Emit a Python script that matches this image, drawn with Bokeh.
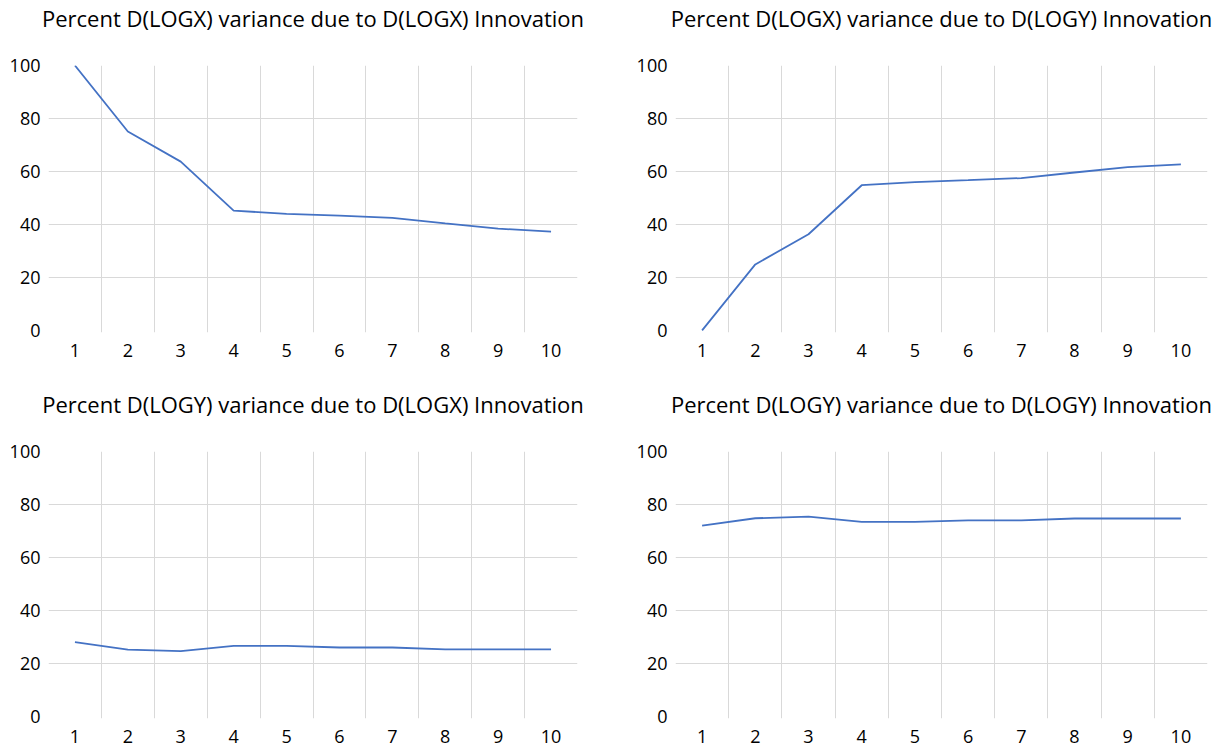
from bokeh.plotting import figure
from bokeh.layouts import column, row
from bokeh.models import FixedTicker, ColumnDataSource, Title
from bokeh.embed import file_html
from bokeh.resources import INLINE

periods = [1, 2, 3, 4, 5, 6, 7, 8, 9, 10]
x_own = [100.0, 75.1, 63.7, 45.2, 44.0, 43.3, 42.5, 40.4, 38.4, 37.3]
x_by_y = [0.0, 24.9, 36.3, 54.8, 56.0, 56.7, 57.5, 59.6, 61.6, 62.7]
y_by_x = [28.0, 25.2, 24.6, 26.6, 26.6, 26.0, 26.0, 25.3, 25.3, 25.3]
y_own = [72.0, 74.8, 75.4, 73.4, 73.4, 74.0, 74.0, 74.7, 74.7, 74.7]

titles = [
    "Percent D(LOGX) variance due to D(LOGX) Innovation",
    "Percent D(LOGX) variance due to D(LOGY) Innovation",
    "Percent D(LOGY) variance due to D(LOGX) Innovation",
    "Percent D(LOGY) variance due to D(LOGY) Innovation",
]
series = [x_own, x_by_y, y_by_x, y_own]
y_ticks = [0, 20, 40, 60, 80, 100]

FONT = "Open Sans"
LINE = "#4472C4"
GRID = "#D9D9D9"


def make(title, vals, width, height, left, right, bottom, xoff):
    p = figure(width=width, height=height, output_backend="svg", toolbar_location=None,
               x_range=(0.5, 10.5), y_range=(-0.8, 100),
               min_border_left=left, min_border_right=right,
               min_border_top=65, min_border_bottom=bottom)
    p.outline_line_color = None
    p.background_fill_color = "white"
    p.border_fill_color = "white"
    # blank spacer between the title and the plot area
    p.add_layout(Title(text=" ", text_font_size="1px", standoff=29.5), "above")
    p.add_layout(Title(text=title, align="center", offset=xoff, standoff=0,
                       text_font=FONT, text_font_size="22px", text_font_style="normal",
                       text_color="#000000"), "above")
    src = ColumnDataSource(dict(x=periods, y=vals))
    p.line("x", "y", source=src, line_color=LINE, line_width=1.8)
    for ax in (p.xaxis[0], p.yaxis[0]):
        ax.axis_line_color = None
        ax.major_tick_line_color = None
        ax.minor_tick_line_color = None
        ax.major_tick_out = 0
        ax.major_tick_in = 0
        ax.major_label_text_font = FONT
        ax.major_label_text_font_size = "18px"
        ax.major_label_text_color = "#000000"
    p.xaxis.ticker = FixedTicker(ticks=periods)
    p.yaxis.ticker = FixedTicker(ticks=y_ticks)
    p.xaxis.major_label_standoff = 11
    p.yaxis.major_label_standoff = 8
    p.xgrid.ticker = FixedTicker(ticks=[1.5, 2.5, 3.5, 4.5, 5.5, 6.5, 7.5, 8.5, 9.5])
    p.ygrid.ticker = FixedTicker(ticks=[20, 40, 60, 80])
    p.xgrid.grid_line_color = GRID
    p.ygrid.grid_line_color = GRID
    p.xgrid.grid_line_width = 1
    p.ygrid.grid_line_width = 1
    return p


p1 = make(titles[0], series[0], 609, 386, 48, 32, 54, 3)
p2 = make(titles[1], series[1], 610, 386, 66, 12, 54, 1)
p3 = make(titles[2], series[2], 609, 361, 48, 32, 29, 3)
p4 = make(titles[3], series[3], 610, 361, 66, 12, 29, 1)

layout = column(row(p1, p2), row(p3, p4))
open("out.html", "w").write(file_html(layout, INLINE))
